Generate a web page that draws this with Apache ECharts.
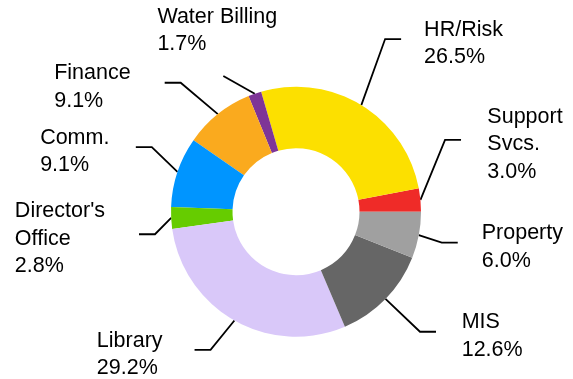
<!DOCTYPE html>
<html>
<head>
<meta charset="utf-8">
<script src="https://cdn.jsdelivr.net/npm/echarts@6/dist/echarts.min.js"></script>
<style>
  html, body { margin: 0; padding: 0; background: #ffffff; }
  #chart { width: 573px; height: 379px; }
</style>
</head>
<body>
<div id="chart"></div>
<script>
// Division shares of the budget, laid out counter-clockwise from 3 o'clock
const categories = ['Support Svcs.', 'HR/Risk', 'Water Billing', 'Finance', 'Comm.',
  "Director's Office", 'Library', 'MIS', 'Property'];
const shares = [3.0, 26.5, 1.7, 9.1, 9.1, 2.8, 29.2, 12.6, 6.0];
// How each category name is broken into label lines
const nameLines = [['Support', 'Svcs.'], ['HR/Risk'], ['Water Billing'], ['Finance'], ['Comm.'],
  ["Director's", 'Office'], ['Library'], ['MIS'], ['Property']];
const sliceColors = ['#EF2B28', '#FCE000', '#7E3597', '#FAAA1E', '#0095FF',
  '#66CC00', '#D9C8F9', '#666666', '#A0A0A0'];

// Leader routing: elbow turned by `turn` degrees from the slice middle at radius `reach`,
// then a horizontal tail of `run` px; the label sits (dx, dy) from the tail end.
const leaders = [
  { turn: 20.3, reach: 165.4, run: 16, dx: 26.3, dy: 4.6 },
  { turn: 4.2,  reach: 194.3, run: 16, dx: 23,   dy: 4.6 },
  { turn: 8.9,  reach: 154,   run: 0,  dx: -6,   dy: -45.3 },
  { turn: 3.1,  reach: 173,   run: 16, dx: -34,  dy: 4.6 },
  { turn: -5.6, reach: 158,   run: 16, dx: -26.4, dy: 4.6 },
  { turn: 6.2,  reach: 142.8, run: 16, dx: -34,  dy: 4.6 },
  { turn: -2.2, reach: 162.5, run: 16, dx: -32,  dy: 4.6 },
  { turn: 0.2,  reach: 172.6, run: 16, dx: 25.7, dy: 4.6 },
  { turn: -1.2, reach: 149,   run: 16, dx: 24,   dy: 4.6 }
];

const CX = 296, CY = 211.7;
const FONT = { fontFamily: '"Liberation Sans", Arial, sans-serif', fontSize: 21.5, lineHeight: 27.7, color: '#000000' };

const chart = echarts.init(document.getElementById('chart'), null, { renderer: 'canvas' });

chart.setOption({
  animation: false,
  backgroundColor: '#ffffff',
  series: [{
    type: 'pie',
    center: [CX, CY],
    radius: [63.5, 125],
    startAngle: 0,
    clockwise: false,
    avoidLabelOverlap: false,
    minShowLabelAngle: 0,
    data: categories.map((name, i) => ({ name: name, value: shares[i], itemStyle: { color: sliceColors[i] } })),
    label: {
      show: true,
      position: 'outside',
      formatter: (p) => nameLines[p.dataIndex].concat([shares[p.dataIndex].toFixed(1) + '%'])
        .map((s) => '{t|' + s + '}').join('\n'),
      rich: { t: Object.assign({ align: 'left' }, FONT) }
    },
    labelLine: {
      show: true,
      smooth: false,
      lineStyle: { color: '#000000', width: 1.8 }
    },
    emphasis: { disabled: true },
    labelLayout: function (params) {
      const i = params.dataIndex;
      const L = leaders[i];
      const p0 = params.labelLinePoints[0];
      const a = Math.atan2(-(p0[1] - CY), p0[0] - CX) + L.turn * Math.PI / 180;
      const elbow = [CX + L.reach * Math.cos(a), CY - L.reach * Math.sin(a)];
      const side = elbow[0] >= CX ? 1 : -1;
      const end = [elbow[0] + side * L.run, elbow[1]];
      const align = L.run === 0 ? 'center' : (side > 0 ? 'left' : 'right');
      return {
        x: end[0] + L.dx,
        y: end[1] + L.dy,
        align: align,
        verticalAlign: 'middle',
        labelLinePoints: [p0, elbow, end]
      };
    }
  }]
});
</script>
</body>
</html>
